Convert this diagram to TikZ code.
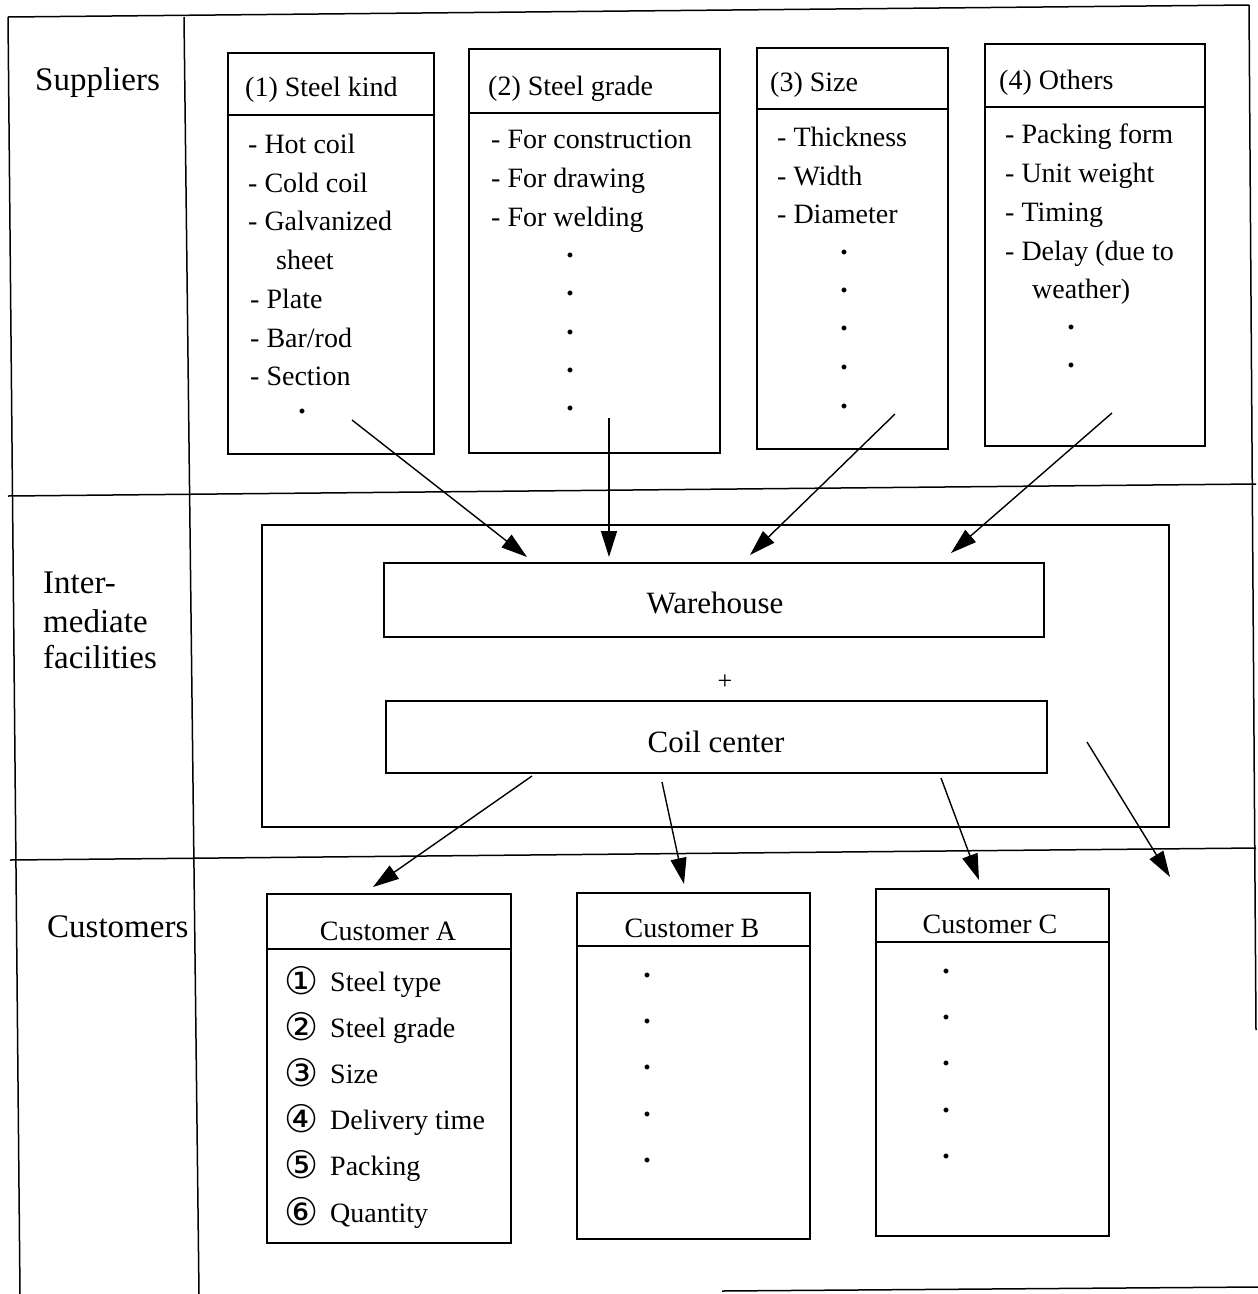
\documentclass[tikz,border=0pt]{standalone}
\usepackage{fontspec}
\setmainfont{Liberation Serif}
\newfontfamily\symfont{DejaVu Sans}
\usetikzlibrary{arrows.meta}
\begin{document}
\begin{tikzpicture}[x=1pt,y=-1pt,
  frame/.style={line width=1.5pt},
  box/.style={draw, line width=2pt, inner sep=0pt, anchor=north west},
  sep/.style={line width=2pt},
  item/.style={anchor=base west, inner sep=0pt, font=\fontsize{28}{32}\selectfont},
  ctr/.style={anchor=base, inner sep=0pt, font=\fontsize{28}{32}\selectfont},
  mid/.style={anchor=center, inner sep=0pt, font=\fontsize{31}{36}\selectfont},
  lab/.style={anchor=base west, inner sep=0pt, font=\fontsize{33}{38}\selectfont},
  dotn/.style={anchor=center, inner sep=0pt, font=\fontsize{30}{34}\selectfont\bfseries},
  circ/.style={anchor=center, inner sep=0pt, font=\fontsize{38}{40}\symfont},
  arr/.style={line width=1.4pt, -{Triangle[length=26pt,width=16pt]}}]
\useasboundingbox (0,0) rectangle (1258,1294);
\fill[white] (0,0) rectangle (1258,1294);

% ---------- frame ----------
\draw[frame] (8,17) -- (1249,5);
\draw[frame] (8,17) -- (20,1294);
\draw[frame] (184,17) -- (199,1294);
\draw[frame] (1249,5) -- (1256,1030);
\draw[frame] (8,496) -- (1256,484);
\draw[frame] (10,860) -- (1256,848);
\draw[frame] (722,1291) -- (1258,1287);

% ---------- row labels ----------
\node[lab] (lsup) at (35,90) {Suppliers};
\node[lab] (lint1) at (43,593) {Inter-};
\node[lab] (lint2) at (43,632) {mediate};
\node[lab] (lint3) at (43,668) {facilities};
\node[lab] (lcus) at (47,937) {Customers};

% ---------- supplier boxes ----------
% (1)
\node[box, minimum width=206pt, minimum height=401pt] (s1) at (227,52) {};
\draw[sep] (227,115) -- (433,115);
\node[item] (s1h) at (245,96) {(1) Steel kind};
\node[item] (s1a) at (248,153) {- Hot coil};
\node[item] (s1b) at (248,192) {- Cold coil};
\node[item] (s1c) at (248,230) {- Galvanized};
\node[item] (s1d) at (276,269) {sheet};
\node[item] (s1e) at (250,308) {- Plate};
\node[item] (s1f) at (250,347) {- Bar/rod};
\node[item] (s1g) at (250,385) {- Section};
\node[dotn] (s1z) at (302,411) {.};
% (2)
\node[box, minimum width=251pt, minimum height=404pt] (s2) at (468,48) {};
\draw[sep] (468,113) -- (719,113);
\node[item] (s2h) at (488,95) {(2) Steel grade};
\node[item] (s2a) at (491,148) {- For construction};
\node[item] (s2b) at (491,187) {- For drawing};
\node[item] (s2c) at (491,226) {- For welding};
\foreach \y [count=\i] in {255,293,332,370,408}
  \node[dotn] (s2d\i) at (570,\y) {.};
% (3)
\node[box, minimum width=191pt, minimum height=401pt] (s3) at (756,47) {};
\draw[sep] (756,109) -- (947,109);
\node[item] (s3h) at (770,91) {(3) Size};
\node[item] (s3a) at (777,146) {- Thickness};
\node[item] (s3b) at (777,185) {- Width};
\node[item] (s3c) at (777,223) {- Diameter};
\foreach \y [count=\i] in {252,290,328,367,406}
  \node[dotn] (s3d\i) at (844,\y) {.};
% (4)
\node[box, minimum width=220pt, minimum height=402pt] (s4) at (984,43) {};
\draw[sep] (984,107) -- (1204,107);
\node[item] (s4h) at (999,89) {(4) Others};
\node[item] (s4a) at (1005,143) {- Packing form};
\node[item] (s4b) at (1005,182) {- Unit weight};
\node[item] (s4c) at (1005,221) {- Timing};
\node[item] (s4d) at (1005,260) {- Delay (due to};
\node[item] (s4e) at (1032,298) {weather)};
\foreach \y [count=\i] in {327,365}
  \node[dotn] (s4d\i) at (1071,\y) {.};

% ---------- intermediate facilities ----------
\node[box, minimum width=907pt, minimum height=302pt] (ifac) at (261,524) {};
\node[box, minimum width=660pt, minimum height=74pt] (wh) at (383,562) {};
\node[mid] (whl) at (715,603) {Warehouse};
\node[anchor=center, inner sep=0pt, font=\fontsize{26}{30}\selectfont] (plus) at (725,682) {+};
\node[box, minimum width=661pt, minimum height=72pt] (cc) at (385,700) {};
\node[mid] (ccl) at (716,742) {Coil center};

% ---------- customer boxes ----------
% A
\node[box, minimum width=244pt, minimum height=349pt] (ca) at (266,893) {};
\draw[sep] (266,949) -- (510,949);
\node[ctr] (cah) at (388,940) {Customer A};
\foreach \y/\n/\t [count=\i] in {991/①/Steel type,1037/②/Steel grade,1083/③/Size,1129/④/Delivery time,1175/⑤/Packing,1222/⑥/Quantity}{
  \node[circ] (cac\i) at (302,\y-10) {\n};
  \node[item] (cat\i) at (330,\y) {\t};
}
% B
\node[box, minimum width=233pt, minimum height=346pt] (cb) at (576,892) {};
\draw[sep] (576,946) -- (809,946);
\node[ctr] (cbh) at (692,937) {Customer B};
\foreach \y [count=\i] in {975,1021,1067,1114,1160}
  \node[dotn] (cbd\i) at (647,\y) {.};
% C
\node[box, minimum width=233pt, minimum height=347pt] (ccx) at (875,888) {};
\draw[sep] (875,942) -- (1108,942);
\node[ctr] (cch) at (990,933) {Customer C};
\foreach \y [count=\i] in {971,1017,1063,1110,1156}
  \node[dotn] (ccd\i) at (946,\y) {.};

% ---------- arrows ----------
\coordinate (a1s) at (352,420); \coordinate (a1e) at (527,557);
\coordinate (a2s) at (609,418); \coordinate (a2e) at (609,557);
\coordinate (a3s) at (895,414); \coordinate (a3e) at (750,555);
\coordinate (a4s) at (1112,413); \coordinate (a4e) at (951,553);
\coordinate (b1s) at (532,776); \coordinate (b1e) at (373,887);
\coordinate (b2s) at (662,782); \coordinate (b2e) at (684,884);
\coordinate (b3s) at (941,778); \coordinate (b3e) at (979,880);
\coordinate (b4s) at (1087,742); \coordinate (b4e) at (1170,877);
\foreach \a in {a1,a2,a3,a4,b1,b2,b3,b4}
  \draw[arr] (\a s) -- (\a e);
\end{tikzpicture}
\end{document}
